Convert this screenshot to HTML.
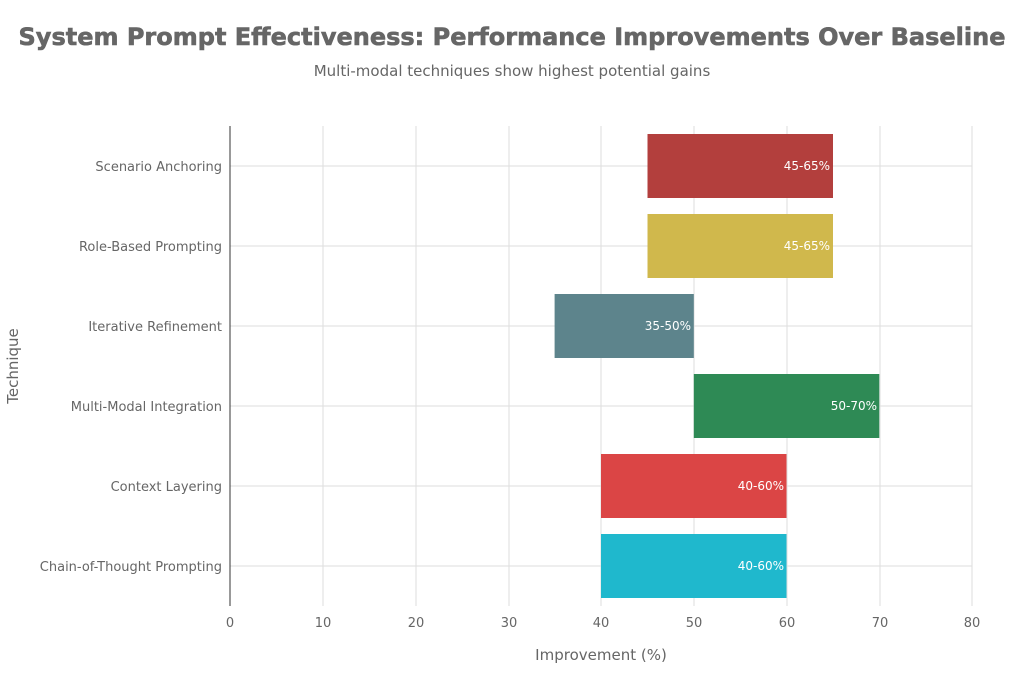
<!DOCTYPE html>
<html><head><meta charset="utf-8"><style>
body{margin:0;background:#fff;}
svg text{font-family:"DejaVu Sans","Liberation Sans",sans-serif;}
</style></head><body>
<svg width="1024" height="683" xmlns="http://www.w3.org/2000/svg">
<rect width="1024" height="683" fill="#fff"/>
<text x="512" y="45" text-anchor="middle" font-size="24" font-weight="bold" fill="#666" stroke="#666" stroke-width="0.6">System Prompt Effectiveness: Performance Improvements Over Baseline</text>
<text x="512" y="76" text-anchor="middle" font-size="15" fill="#666">Multi-modal techniques show highest potential gains</text>
<g stroke="#ddd" stroke-width="1">
<line x1="323" y1="126" x2="323" y2="606"/><line x1="416" y1="126" x2="416" y2="606"/>
<line x1="509" y1="126" x2="509" y2="606"/><line x1="601" y1="126" x2="601" y2="606"/>
<line x1="694" y1="126" x2="694" y2="606"/><line x1="787" y1="126" x2="787" y2="606"/>
<line x1="880" y1="126" x2="880" y2="606"/><line x1="972" y1="126" x2="972" y2="606"/>
<line x1="230" y1="166" x2="972" y2="166"/><line x1="230" y1="246" x2="972" y2="246"/>
<line x1="230" y1="326" x2="972" y2="326"/><line x1="230" y1="406" x2="972" y2="406"/>
<line x1="230" y1="486" x2="972" y2="486"/><line x1="230" y1="566" x2="972" y2="566"/>
</g>
<line x1="230" y1="126" x2="230" y2="606" stroke="#333" stroke-width="1"/>
<rect x="647.5" y="134" width="185.5" height="64" fill="#b33f3d"/>
<rect x="647.5" y="214" width="185.5" height="64" fill="#d0b84c"/>
<rect x="554.6" y="294" width="139.2" height="64" fill="#5d848c"/>
<rect x="693.8" y="374" width="185.5" height="64" fill="#2e8a55"/>
<rect x="601" y="454" width="185.5" height="64" fill="#db4545"/>
<rect x="601" y="534" width="185.5" height="64" fill="#1fb8cd"/>
<g font-size="12" fill="#fff" text-anchor="end">
<text x="830" y="170">45-65%</text><text x="830" y="250">45-65%</text>
<text x="691" y="330">35-50%</text><text x="877" y="410">50-70%</text>
<text x="784" y="490">40-60%</text><text x="784" y="570">40-60%</text>
</g>
<g font-size="13" fill="#666" text-anchor="end">
<text x="222" y="171">Scenario Anchoring</text><text x="222" y="251">Role-Based Prompting</text>
<text x="222" y="331">Iterative Refinement</text><text x="222" y="411">Multi-Modal Integration</text>
<text x="222" y="491">Context Layering</text><text x="222" y="571">Chain-of-Thought Prompting</text>
</g>
<g font-size="13" fill="#666" text-anchor="middle">
<text x="230" y="627">0</text><text x="323" y="627">10</text><text x="416" y="627">20</text>
<text x="509" y="627">30</text><text x="601" y="627">40</text><text x="694" y="627">50</text>
<text x="787" y="627">60</text><text x="880" y="627">70</text><text x="972" y="627">80</text>
</g>
<text x="601" y="660" text-anchor="middle" font-size="15" fill="#666">Improvement (%)</text>
<text transform="translate(18,366) rotate(-90)" text-anchor="middle" font-size="15" fill="#666">Technique</text>
</svg>
</body></html>
